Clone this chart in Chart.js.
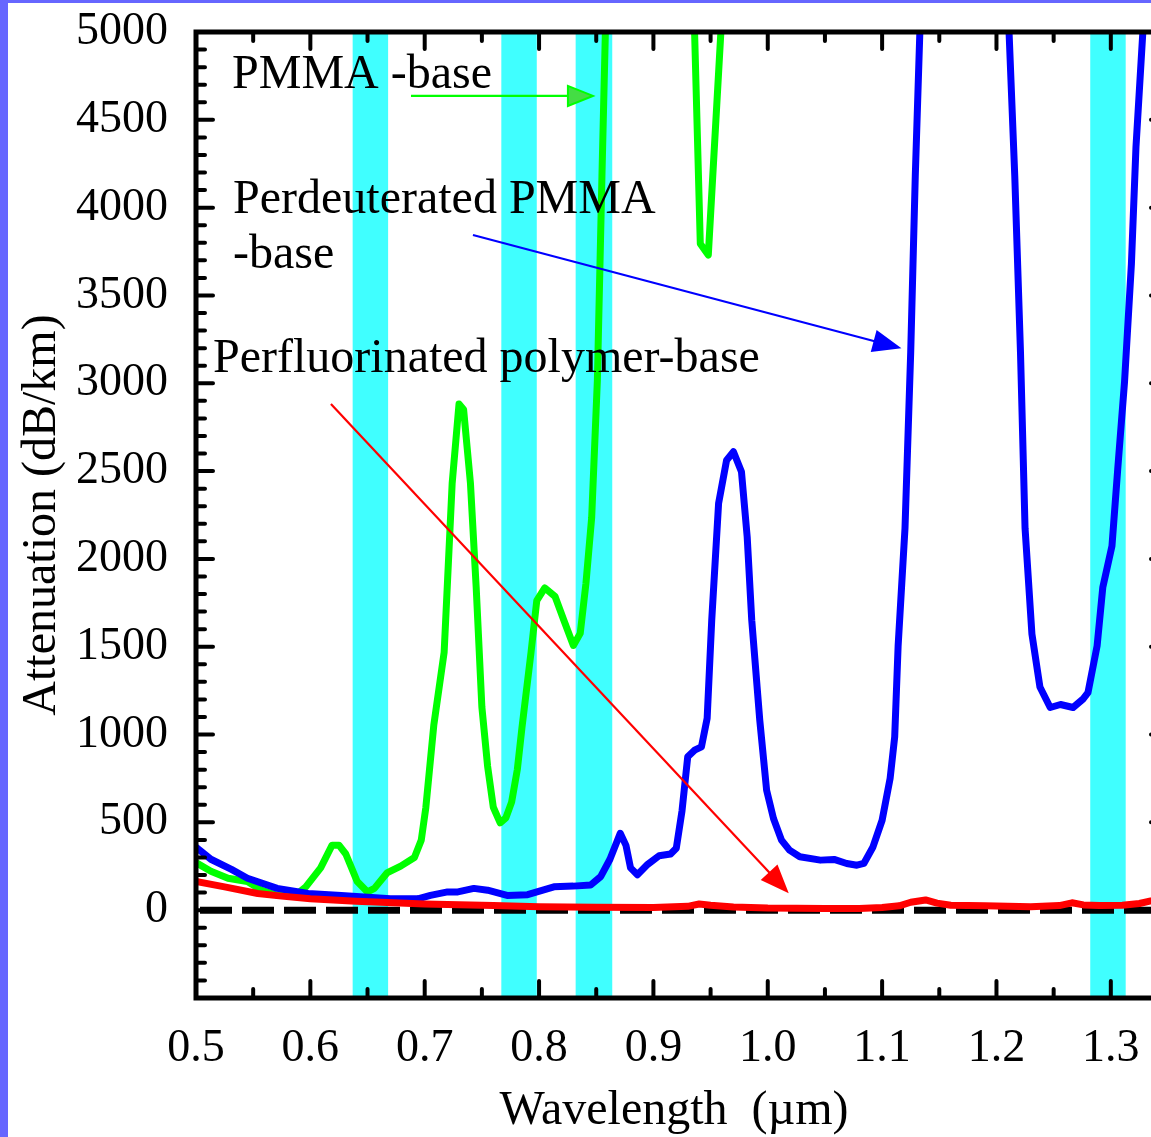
<!DOCTYPE html>
<html>
<head>
<meta charset="utf-8">
<script src="https://cdn.jsdelivr.net/npm/chart.js"></script>
<style>
    html, body { margin: 0; padding: 0; overflow: hidden; background: #fff; }
    #wrap { position: absolute; left: 0; top: 0; width: 1200px; height: 1137px; }
    .edge { position: absolute; background: #6666ff; }
</style>
</head>
<body>
<div id="wrap"><canvas id="lossChart"></canvas></div>
<div class="edge" style="left:0;top:0;width:8px;height:1137px;"></div>
<div class="edge" style="left:0;top:0;width:1151px;height:3px;"></div>
<script>
// --- data (wavelength in um, attenuation in dB/km) ---
const pmmaWl = [0.500,0.513,0.528,0.545,0.557,0.571,0.589,0.596,0.609,0.619,0.625,0.631,0.641,0.650,0.656,0.667,0.679,0.691,0.697,0.701,0.708,0.717,0.720,0.724,0.730,0.734,0.740,0.745,0.750,0.755,0.760,0.766,0.771,0.776,0.781,0.785,0.793,0.798,0.805,0.814,0.822,0.830,0.836,0.841,0.846,0.851,0.855,0.858,0.861,0.933,0.936,0.941,0.948,0.959,0.962];
const pmmaAtt = [271,222,182,163,114,85,95,133,241,370,370,320,163,104,124,212,251,300,399,585,1056,1469,1880,2429,2882,2851,2431,1840,1156,820,586,497,526,615,801,1036,1469,1762,1835,1786,1645,1507,1576,1861,2234,3018,4180,5000,5800,5800,5000,3795,3730,5000,5600];

const dpmmaWl = [0.500,0.513,0.531,0.545,0.571,0.598,0.627,0.670,0.694,0.705,0.720,0.729,0.743,0.755,0.772,0.790,0.813,0.830,0.845,0.854,0.862,0.871,0.876,0.880,0.886,0.895,0.905,0.915,0.920,0.925,0.930,0.936,0.942,0.947,0.951,0.957,0.964,0.970,0.977,0.982,0.986,0.993,0.999,1.005,1.012,1.019,1.028,1.046,1.058,1.069,1.078,1.084,1.092,1.100,1.107,1.111,1.114,1.120,1.125,1.129,1.133,1.136,1.208,1.211,1.216,1.221,1.225,1.231,1.238,1.247,1.256,1.267,1.276,1.280,1.288,1.293,1.301,1.306,1.312,1.318,1.322,1.328,1.331];
const dpmmaAtt = [359,290,232,182,124,95,84,65,65,84,104,104,124,114,84,88,133,137,143,192,290,438,369,241,202,261,310,320,353,565,873,911,930,1093,1651,2316,2562,2610,2496,2126,1651,1082,683,522,399,342,304,285,289,266,256,266,360,512,750,987,1505,2174,3177,4180,5000,5700,5700,5000,4180,3177,2174,1572,1271,1154,1171,1154,1204,1238,1505,1839,2073,2508,3009,3679,4346,5000,5500];

const pfWl = [0.500,0.525,0.554,0.575,0.600,0.640,0.700,0.760,0.800,0.850,0.900,0.930,0.940,0.950,0.970,1.000,1.050,1.080,1.100,1.115,1.125,1.138,1.148,1.160,1.190,1.230,1.255,1.266,1.276,1.290,1.310,1.325,1.335,1.350];
const pfAtt = [163,133,95,80,65,51,35,26,20,17,15,22,35,28,18,12,10,10,15,25,45,58,40,28,25,20,26,42,30,26,28,38,53,65];

// transmission windows (shaded bands)
const bandStart = [0.637, 0.767, 0.832, 1.282];
const bandEnd = [0.668, 0.798, 0.864, 1.313];

// axis ticks
const xTicks = [0.5,0.6,0.7,0.8,0.9,1.0,1.1,1.2,1.3];
const xTickLabels = ['0.5','0.6','0.7','0.8','0.9','1.0','1.1','1.2','1.3'];
const yTicks = [-500,0,500,1000,1500,2000,2500,3000,3500,4000,4500,5000];
const yTickLabels = ['','0','500','1000','1500','2000','2500','3000','3500','4000','4500','5000'];

// annotations (text anchored at left/baseline)
const noteText = ['PMMA -base', 'Perdeuterated PMMA', '-base', 'Perfluorinated polymer-base'];
const noteWl = [0.5315, 0.5324, 0.5324, 0.5149];
const noteAtt = [4681, 3969, 3656, 3064];

// arrows: start -> tip
const arrowFromWl = [0.688, 0.7422, 0.618];
const arrowFromAtt = [4636, 3844, 2882];
const arrowToWl = [0.8471, 1.1146, 1.0167];
const arrowToAtt = [4636, 3203, 108];
const arrowColors = ['#00ff00', '#0000ff', '#ff0000'];

function toPoints(xs, ys) {
    return xs.map((v, i) => ({ x: v, y: ys[i] }));
}

const serif = '"Liberation Serif", "Times New Roman", serif';

// cyan bands behind the curves
const bandPlugin = {
    id: 'bands',
    beforeDatasetsDraw(chart) {
        const { ctx, chartArea, scales: { x } } = chart;
        ctx.save();
        ctx.fillStyle = '#40ffff';
        bandStart.forEach((a, i) => {
            const x0 = x.getPixelForValue(a);
            const x1 = x.getPixelForValue(bandEnd[i]);
            ctx.fillRect(x0, chartArea.top, x1 - x0, chartArea.bottom - chartArea.top);
        });
        ctx.restore();
    }
};

// frame, inward ticks, titles, notes and arrows
const overlayPlugin = {
    id: 'overlay',
    afterDraw(chart) {
        const { ctx, chartArea: ca, scales: { x, y } } = chart;
        ctx.save();

        // ticks
        ctx.strokeStyle = '#000';
        ctx.lineCap = 'round';
        ctx.lineWidth = 4;
        for (let i = 0; i <= 17; i++) {
            const px = x.getPixelForValue(0.5 + i * 0.05);
            const len = i % 2 === 0 ? 17 : 9;
            ctx.beginPath();
            ctx.moveTo(px, ca.bottom); ctx.lineTo(px, ca.bottom - len);
            ctx.moveTo(px, ca.top); ctx.lineTo(px, ca.top + len);
            ctx.stroke();
        }
        for (let i = -5; i <= 50; i++) {
            const py = y.getPixelForValue(i * 100);
            const len = i % 5 === 0 ? 17 : 9;
            ctx.beginPath();
            ctx.moveTo(ca.left, py); ctx.lineTo(ca.left + len, py);
            ctx.moveTo(ca.right, py); ctx.lineTo(ca.right - len, py);
            ctx.stroke();
        }

        // frame
        ctx.lineCap = 'butt';
        ctx.lineWidth = 5;
        ctx.strokeRect(ca.left, ca.top, ca.right - ca.left, ca.bottom - ca.top);

        // arrows
        arrowFromWl.forEach((w, i) => {
            const x0 = x.getPixelForValue(w), y0 = y.getPixelForValue(arrowFromAtt[i]);
            const x1 = x.getPixelForValue(arrowToWl[i]), y1 = y.getPixelForValue(arrowToAtt[i]);
            const ang = Math.atan2(y1 - y0, x1 - x0);
            const headLen = 25, headHalf = 10;
            const bx = x1 - headLen * Math.cos(ang), by = y1 - headLen * Math.sin(ang);
            ctx.strokeStyle = arrowColors[i];
            ctx.lineWidth = 2.2;
            ctx.beginPath();
            ctx.moveTo(x0, y0); ctx.lineTo(bx, by);
            ctx.stroke();
            ctx.beginPath();
            ctx.moveTo(x1, y1);
            ctx.lineTo(bx + headHalf * Math.sin(ang), by - headHalf * Math.cos(ang));
            ctx.lineTo(bx - headHalf * Math.sin(ang), by + headHalf * Math.cos(ang));
            ctx.closePath();
            ctx.fillStyle = i === 0 ? '#44dd44' : arrowColors[i];
            ctx.fill();
            ctx.lineWidth = 2;
            ctx.stroke();
        });

        // notes
        ctx.fillStyle = '#000';
        ctx.font = '48px ' + serif;
        ctx.textAlign = 'left';
        ctx.textBaseline = 'alphabetic';
        noteText.forEach((t, i) => {
            ctx.fillText(t, x.getPixelForValue(noteWl[i]), y.getPixelForValue(noteAtt[i]));
        });

        // axis titles
        ctx.textAlign = 'center';
        ctx.fillText('Wavelength  (\u00b5m)', 674, 1124);
        ctx.translate(55, (ca.top + ca.bottom) / 2);
        ctx.rotate(-Math.PI / 2);
        ctx.fillText('Attenuation (dB/km)', 0, 0);

        ctx.restore();
    }
};

const ctx = document.getElementById('lossChart').getContext('2d');
new Chart(ctx, {
    type: 'line',
    data: {
        datasets: [
            {
                label: 'Perfluorinated polymer-base',
                data: toPoints(pfWl, pfAtt),
                borderColor: '#ff0000',
                borderWidth: 7
            },
            {
                label: 'Perdeuterated PMMA-base',
                data: toPoints(dpmmaWl, dpmmaAtt),
                borderColor: '#0000ff',
                borderWidth: 7
            },
            {
                label: 'PMMA-base',
                data: toPoints(pmmaWl, pmmaAtt),
                borderColor: '#00ff00',
                borderWidth: 7
            },
            {
                label: 'zero',
                data: toPoints([0.5, 1.35], [0, 0]),
                borderColor: '#000000',
                borderWidth: 7,
                borderDash: [32, 10],
                borderDashOffset: -4,
                borderCapStyle: 'butt'
            }
        ]
    },
    options: {
        responsive: true,
        maintainAspectRatio: false,
        devicePixelRatio: 1,
        animation: false,
        events: [],
        layout: { padding: { top: 32, right: 32, left: 0, bottom: 0 } },
        elements: {
            point: { radius: 0 },
            line: { tension: 0, borderWidth: 7, borderJoinStyle: 'round', borderCapStyle: 'round', fill: false }
        },
        datasets: { line: { clip: 0 } },
        plugins: { legend: { display: false }, tooltip: { enabled: false } },
        scales: {
            x: {
                type: 'linear',
                min: 0.5,
                max: 1.35,
                grid: { display: false, drawTicks: false },
                border: { display: false },
                afterBuildTicks: s => { s.ticks = xTicks.map(v => ({ value: v })); },
                afterFit: s => { s.height = 139; s.paddingLeft = 0; s.paddingRight = 0; },
                ticks: {
                    autoSkip: false,
                    maxRotation: 0,
                    padding: 23,
                    color: '#000',
                    font: { family: serif, size: 46 },
                    callback: (v) => xTickLabels[xTicks.findIndex(t => Math.abs(t - v) < 1e-6)] || ''
                }
            },
            y: {
                type: 'linear',
                min: -500,
                max: 5000,
                grid: { display: false, drawTicks: false },
                border: { display: false },
                afterBuildTicks: s => { s.ticks = yTicks.map(v => ({ value: v })); },
                afterFit: s => { s.width = 196; s.paddingTop = 0; s.paddingBottom = 0; },
                ticks: {
                    autoSkip: false,
                    padding: 28,
                    color: '#000',
                    font: { family: serif, size: 46 },
                    callback: (v) => yTickLabels[yTicks.indexOf(v)] || ''
                }
            }
        }
    },
    plugins: [bandPlugin, overlayPlugin]
});
</script>
</body>
</html>
